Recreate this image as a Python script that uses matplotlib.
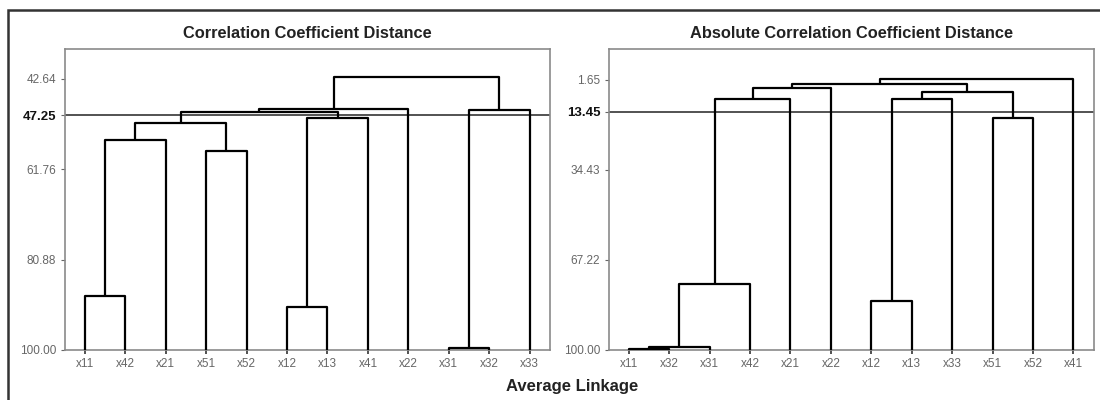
import matplotlib
matplotlib.use("Agg")
import matplotlib.pyplot as plt
from matplotlib.patches import Rectangle

plt.rcParams['font.family'] = ['Liberation Sans', 'DejaVu Sans']

# ---------------- data ----------------
left_title = "Correlation Coefficient Distance"
right_title = "Absolute Correlation Coefficient Distance"
xlabel = "Average Linkage"

left_leaves = ['x11', 'x42', 'x21', 'x51', 'x52', 'x12', 'x13', 'x41', 'x22', 'x31', 'x32', 'x33']
# merges: (child a, child b, similarity level); merged clusters named c0, c1, ...
left_merges = [
    ('x11', 'x42', 88.5),   # c0
    ('x12', 'x13', 91.0),   # c1
    ('x31', 'x32', 99.6),   # c2
    ('c0', 'x21', 55.6),    # c3
    ('x51', 'x52', 57.9),   # c4
    ('c3', 'c4', 52.0),     # c5
    ('c1', 'x41', 50.9),    # c6
    ('c5', 'c6', 49.6),     # c7
    ('c7', 'x22', 49.1),    # c8
    ('c2', 'x33', 49.2),    # c9
    ('c8', 'c9', 42.2),     # c10
]
left_ticks = [42.64, 61.76, 80.88, 100.00]
left_tick_labels = ['42.64', '61.76', '80.88', '100.00']
left_cut_pos = 50.3
left_cut_label = '47.25'
left_ylim_top = 36.3

right_leaves = ['x11', 'x32', 'x31', 'x42', 'x21', 'x22', 'x12', 'x13', 'x33', 'x51', 'x52', 'x41']
right_merges = [
    ('x11', 'x32', 99.75),  # c0
    ('c0', 'x31', 99.15),   # c1
    ('x12', 'x13', 82.4),   # c2
    ('c1', 'x42', 76.1),    # c3
    ('x51', 'x52', 15.75),  # c4
    ('c3', 'x21', 8.7),     # c5
    ('c2', 'x33', 8.7),     # c6
    ('c6', 'c4', 6.3),      # c7
    ('c5', 'x22', 4.8),     # c8
    ('c8', 'c7', 3.2),      # c9
    ('c9', 'x41', 1.4),     # c10
]
right_ticks = [1.65, 34.43, 67.22, 100.00]
right_tick_labels = ['1.65', '34.43', '67.22', '100.00']
right_cut_pos = 13.45
right_cut_label = '13.45'
right_ylim_top = -9.5

# ---------------- drawing ----------------
fig = plt.figure(figsize=(11, 4), dpi=100)
fig.patch.set_facecolor('white')

# outer frame
fig.patches.append(Rectangle((8 / 1100, -0.2), 1.5, 1.2 - 10 / 400,
                             transform=fig.transFigure, fill=False,
                             edgecolor='#333333', linewidth=1.8))

TICK_COLOR = '#666666'
SPINE_COLOR = '#8a8a8a'


def draw_dendro(ax, leaves, merges, ticks, tick_labels, cut_pos, cut_label, ytop):
    pos = {name: (i, 100.0) for i, name in enumerate(leaves)}
    for k, (a, b, h) in enumerate(merges):
        xa, ha = pos[a]
        xb, hb = pos[b]
        ax.plot([xa, xa, xb, xb], [ha, h, h, hb], color='black',
                linewidth=1.6, solid_capstyle='butt', clip_on=False, zorder=3)
        pos['c%d' % k] = ((xa + xb) / 2.0, h)
    ax.axhline(cut_pos, color='#444444', linewidth=1.3, zorder=2)
    ax.set_xlim(-0.5, len(leaves) - 0.5)
    ax.set_ylim(100, ytop)
    ax.set_xticks(range(len(leaves)))
    ax.set_xticklabels(leaves, fontsize=8.5, color=TICK_COLOR)
    all_ticks = list(ticks) + [cut_pos]
    all_labels = list(tick_labels) + [cut_label]
    ax.set_yticks(all_ticks)
    ax.set_yticklabels(all_labels, fontsize=8.5, color=TICK_COLOR)
    lbls = ax.get_yticklabels()
    lbls[-1].set_color('#111111')
    lbls[-1].set_fontsize(9.5)
    lbls[-1].set_fontweight('bold')
    ax.tick_params(axis='y', length=3, width=0.8, color=TICK_COLOR, pad=3)
    ax.tick_params(axis='x', length=3, width=1.2, color='#333333', pad=3)
    for s in ax.spines.values():
        s.set_color(SPINE_COLOR)
        s.set_linewidth(1.2)


ax1 = fig.add_axes([64.5 / 1100, 50 / 400, 485.5 / 1100, 301 / 400])
ax2 = fig.add_axes([608.6 / 1100, 50.5 / 400, 485 / 1100, 300.5 / 400])

draw_dendro(ax1, left_leaves, left_merges, left_ticks, left_tick_labels,
            left_cut_pos, left_cut_label, left_ylim_top)
draw_dendro(ax2, right_leaves, right_merges, right_ticks, right_tick_labels,
            right_cut_pos, right_cut_label, right_ylim_top)

fig.text(307 / 1100, 1 - 33 / 400, left_title, ha='center', va='center',
         fontsize=11.8, fontweight='bold', color='#222222')
fig.text(851 / 1100, 1 - 33 / 400, right_title, ha='center', va='center',
         fontsize=11.8, fontweight='bold', color='#222222')
fig.text(572 / 1100, 1 - 387 / 400, xlabel, ha='center', va='center',
         fontsize=12, fontweight='bold', color='#222222')

fig.savefig('out.png', dpi=100, facecolor='white')
